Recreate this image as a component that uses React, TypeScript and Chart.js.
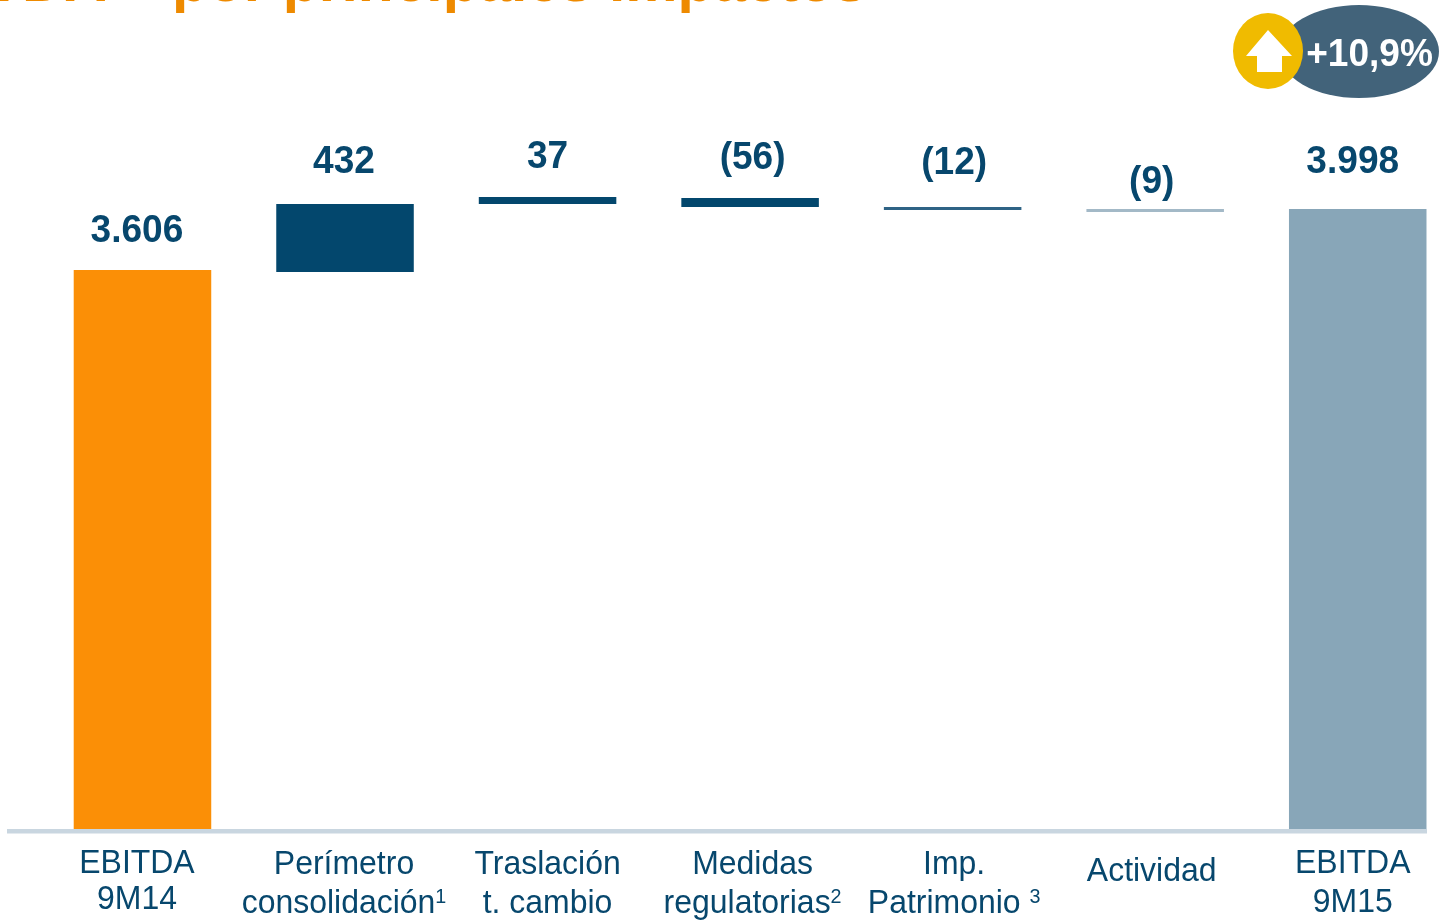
import React, { useEffect, useRef } from "react";
import { Chart, registerables } from "chart.js";

Chart.register(...registerables);

const categories = [
  ["EBITDA", "9M14"],
  ["Perímetro", "consolidación"],
  ["Traslación", "t. cambio"],
  ["Medidas", "regulatorias"],
  ["Imp.", "Patrimonio "],
  ["Actividad"],
  ["EBITDA", "9M15"],
];
const footnotes = ["", "1", "", "2", "3", "", ""];
const barLow = [0, 3592, 4030, 4011, 3992, 3979, 0];
const barHigh = [3606, 4030, 4075, 4069, 4011, 3998, 3998];
const valueLabels = ["3.606", "432", "37", "(56)", "(12)", "(9)", "3.998"];
const barColors = ["#fb8f06", "#03476d", "#03476d", "#03476d", "#2f6385", "#a3b9c7", "#88a6b8"];
const titleText = "EBITDA – por principales impactos";
const badgeText = "+10,9%";

const FONT = '"Liberation Sans", Arial, sans-serif';
const TEXT = "#07476d";
const labelDx = [-5.5, -1, 0, 2.5, 1.5, -3.5, -5];
const valueBaseY = [231.5, 162.5, 157.5, 158.5, 163.5, 182.5, 162.5];
const tickY = [864, 865, 865, 865, 865, 872, 864];
const tickGap = [36, 39, 39, 39, 39, 0, 39];

function squeezed(ctx: any, text: string, x: number, y: number, size: number, sx: number, weight = "") {
  ctx.save();
  ctx.font = `${weight} ${size}px ${FONT}`;
  ctx.translate(x, y);
  ctx.scale(sx, 1);
  ctx.fillText(text, 0, 0);
  ctx.restore();
}

const decorations = {
  id: "decorations",
  afterDatasetsDraw(chart: any) {
    const { ctx, scales } = chart;
    const x = scales.x;
    const base = scales.y.getPixelForValue(0);
    ctx.save();
    // baseline
    ctx.fillStyle = "#c9d6e0";
    ctx.fillRect(7, base - 0.5, 1420, 4.5);

    ctx.textAlign = "center";
    ctx.textBaseline = "middle";
    categories.forEach((lines, i) => {
      const cx = x.getPixelForValue(i) + labelDx[i];
      ctx.fillStyle = TEXT;
      squeezed(ctx, valueLabels[i], cx, valueBaseY[i], 39, 0.95, "bold");
      lines.forEach((line, j) => {
        const y = tickY[i] + j * tickGap[i];
        const isLast = j === lines.length - 1 && footnotes[i];
        if (!isLast) {
          squeezed(ctx, line, cx, y, 34, 0.94);
          return;
        }
        ctx.font = `34px ${FONT}`;
        const w = ctx.measureText(line).width * 0.94;
        ctx.font = `21px ${FONT}`;
        const sw = ctx.measureText(footnotes[i]).width * 0.94;
        const total = w + sw;
        ctx.textAlign = "left";
        squeezed(ctx, line, cx - total / 2, y, 34, 0.94);
        squeezed(ctx, footnotes[i], cx - total / 2 + w, y - 7, 21, 0.94);
        ctx.textAlign = "center";
      });
    });

    // clipped title
    ctx.textAlign = "left";
    ctx.textBaseline = "alphabetic";
    ctx.fillStyle = "#ee8a00";
    ctx.font = `bold 58.7px ${FONT}`;
    const prefix = ctx.measureText("EBITDA – ").width;
    ctx.fillText(titleText, 172 - prefix, 1);

    // badge
    ctx.fillStyle = "#42637a";
    ctx.beginPath();
    ctx.ellipse(1359, 51.5, 80, 46.5, 0, 0, Math.PI * 2);
    ctx.fill();
    ctx.fillStyle = "#f0bb00";
    ctx.beginPath();
    ctx.ellipse(1268, 51, 35, 38, 0, 0, Math.PI * 2);
    ctx.fill();
    ctx.fillStyle = "#ffffff";
    ctx.beginPath();
    ctx.moveTo(1268, 30);
    ctx.lineTo(1292, 56);
    ctx.lineTo(1282, 56);
    ctx.lineTo(1282, 72);
    ctx.lineTo(1257, 72);
    ctx.lineTo(1257, 56);
    ctx.lineTo(1246, 56);
    ctx.closePath();
    ctx.fill();
    ctx.textAlign = "center";
    ctx.textBaseline = "middle";
    squeezed(ctx, badgeText, 1369.5, 55, 39, 0.95, "bold");
    ctx.restore();
  },
};

export default function App() {
  const ref = useRef<HTMLCanvasElement>(null);
  useEffect(() => {
    const chart = new Chart(ref.current!, {
      type: "bar",
      data: {
        labels: categories.map((c) => c.join(" ")),
        datasets: [
          {
            data: barLow.map((lo, i) => [lo, barHigh[i]]),
            backgroundColor: barColors,
            borderWidth: 0,
            barPercentage: 0.679,
            categoryPercentage: 1,
          },
        ],
      },
      options: {
        animation: false,
        responsive: false,
        layout: { padding: { left: 41.2, right: 0, top: 0, bottom: 91.5 } },
        plugins: { legend: { display: false }, tooltip: { enabled: false } },
        scales: {
          x: { display: false },
          y: { display: false, min: 0, max: 5345 },
        },
      },
      plugins: [decorations],
    });
    return () => chart.destroy();
  }, []);
  return (
    <div style={{ position: "fixed", left: 0, top: 0, width: 1439, height: 921, overflow: "hidden", background: "#fff" }}>
      <canvas ref={ref} width={1459} height={921} style={{ display: "block" }} />
    </div>
  );
}
